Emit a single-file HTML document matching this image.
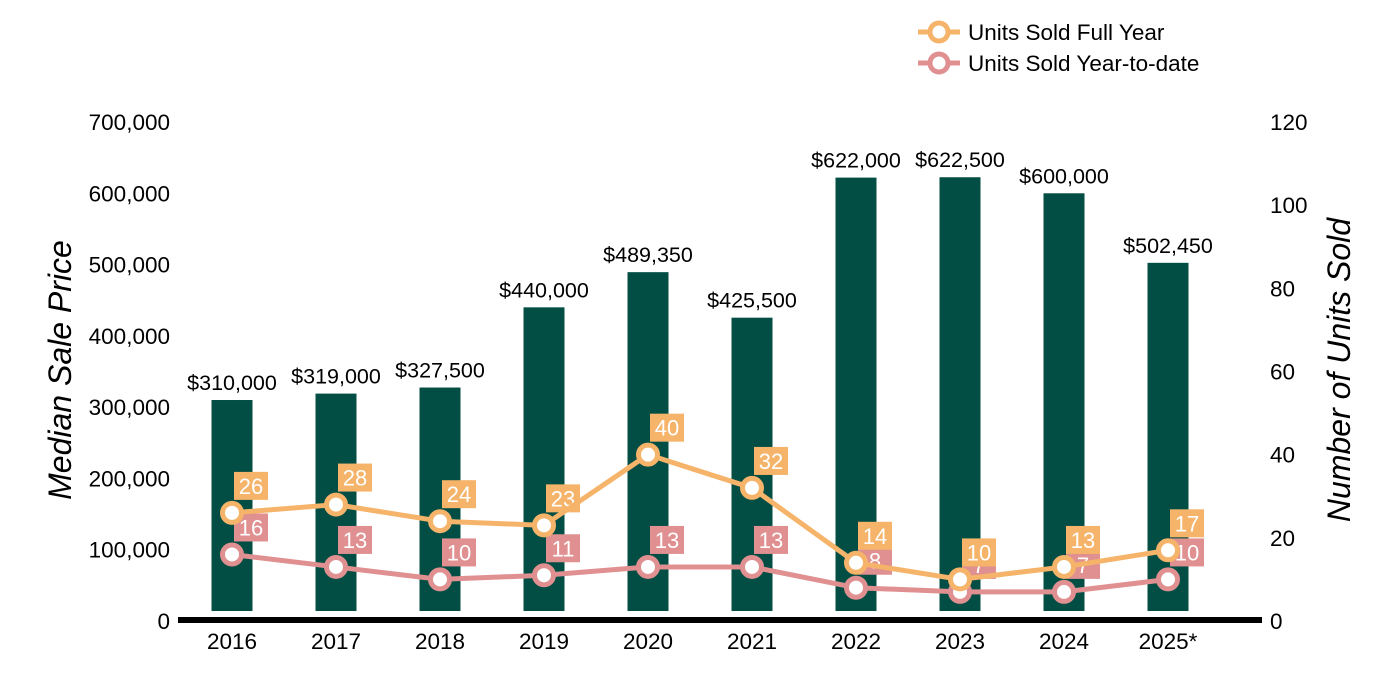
<!DOCTYPE html>
<html><head><meta charset="utf-8"><style>
body{margin:0;background:#fff;}
svg{display:block;font-family:"Liberation Sans",Arial,sans-serif;}
</style></head><body>
<svg id="chart" width="1400" height="700" viewBox="0 0 1400 700" xmlns="http://www.w3.org/2000/svg"></svg>
<script>
const years=["2016","2017","2018","2019","2020","2021","2022","2023","2024","2025*"];
const prices=[310000,319000,327500,440000,489350,425500,622000,622500,600000,502450];
const priceLabels=["$310,000","$319,000","$327,500","$440,000","$489,350","$425,500","$622,000","$622,500","$600,000","$502,450"];
const fullYear=[26,28,24,23,40,32,14,10,13,17];
const ytd=[16,13,10,11,13,13,8,7,7,10];
const leftTicks=[0,100000,200000,300000,400000,500000,600000,700000];
const rightTicks=[0,20,40,60,80,100,120];

const svg=document.getElementById('chart');
const NS="http://www.w3.org/2000/svg";
const y0=621,yTop=122;
const yL=v=>y0-(v/700000)*(y0-yTop);
const yR=v=>y0-(v/120)*(y0-yTop);
const xC=i=>232+i*104;
function mk(tag,attrs,text){const e=document.createElementNS(NS,tag);for(const k in attrs)e.setAttribute(k,attrs[k]);if(text!==undefined)e.textContent=text;svg.appendChild(e);return e;}

leftTicks.forEach(t=>{
 const e=mk('text',{x:170,y:yL(t)+8,'text-anchor':'end','font-size':22.5,fill:'#000'},t.toLocaleString('en-US'));
 
 
});
rightTicks.forEach(t=>{
 const e=mk('text',{x:1270,y:yR(t)+8,'font-size':22.5,fill:'#000'},String(t));
 
 
});
let t=mk('text',{x:0,y:0,transform:'translate(71,370) rotate(-90)','text-anchor':'middle','font-size':32,'font-style':'italic'},'Median Sale Price');

t=mk('text',{x:0,y:0,transform:'translate(1350,370) rotate(-90)','text-anchor':'middle','font-size':32,'font-style':'italic'},'Number of Units Sold');


prices.forEach((p,i)=>{
 const b=mk('rect',{x:xC(i)-20.5,y:yL(p),width:41,height:611-yL(p),fill:'#024d44'});
 
 
 const l=mk('text',{x:xC(i),y:yL(p)-10,'text-anchor':'middle','font-size':21.5,fill:'#000'},priceLabels[i]);
 
 
});
let ax=mk('line',{x1:178,x2:1262,y1:620,y2:620,stroke:'#000','stroke-width':6});

years.forEach((yv,i)=>{
 const e=mk('text',{x:xC(i),y:649,'text-anchor':'middle','font-size':22.5},yv);
 
 
});

function series(vals,color,name){
 const pts=vals.map((v,i)=>xC(i)+','+yR(v)).join(' ');
 const pl=mk('polyline',{points:pts,fill:'none',stroke:color,'stroke-width':5,'stroke-linejoin':'round'});
 
 
 vals.forEach((v,i)=>{
  const c=mk('circle',{cx:xC(i),cy:yR(v),r:9.5,fill:'#fff',stroke:color,'stroke-width':5});
  
  
 });
}
function labels(vals,color,name){
 vals.forEach((v,i)=>{
  const cx=xC(i)+19,cy=yR(v)-27;
  const r=mk('rect',{x:cx-17,y:cy-14,width:34,height:28,fill:color});
  
  
  const tx=mk('text',{x:cx,y:cy+8,'text-anchor':'middle','font-size':22,fill:'#fff'},String(v));
  
  
 });
}
labels(ytd,'#e09090','ytd');
series(ytd,'#e09090','ytd');
labels(fullYear,'#f5b46a','full-year');
series(fullYear,'#f5b46a','full-year');

[['Units Sold Full Year','#f5b46a',32],['Units Sold Year-to-date','#e09090',63]].forEach(([txt,col,y])=>{
 const l=mk('line',{x1:918,x2:960,y1:y,y2:y,stroke:col,'stroke-width':5});
 
 const c=mk('circle',{cx:939,cy:y,r:9,fill:'#fff',stroke:col,'stroke-width':5});
 
 const tx=mk('text',{x:968,y:y+8,'font-size':22.5},txt);
 
});
</script>
</body></html>
